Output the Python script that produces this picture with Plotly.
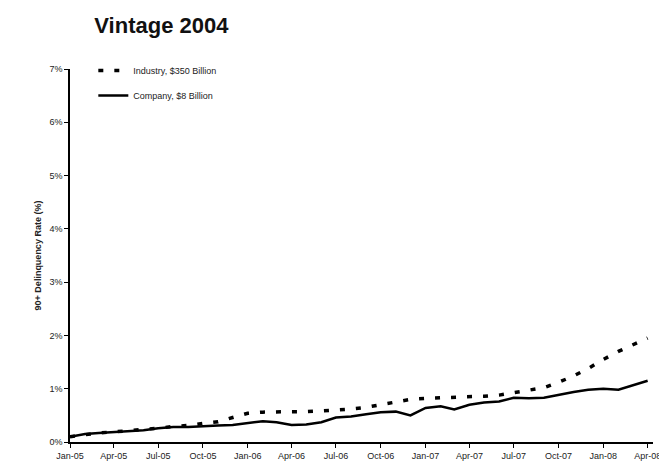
import pandas as pd
import plotly.graph_objects as go

months = pd.date_range("2005-01-01", periods=40, freq="MS")

industry = [0.10, 0.14, 0.17, 0.19, 0.21, 0.23, 0.26, 0.29, 0.31, 0.35,
            0.38, 0.46, 0.54, 0.56, 0.57, 0.57, 0.57, 0.58, 0.60, 0.62,
            0.65, 0.70, 0.75, 0.80, 0.82, 0.83, 0.83, 0.84, 0.86, 0.88,
            0.93, 0.98, 1.02, 1.12, 1.24, 1.38, 1.55, 1.70, 1.82, 1.95]

company = [0.10, 0.15, 0.17, 0.19, 0.20, 0.22, 0.26, 0.28, 0.28, 0.30,
           0.31, 0.32, 0.35, 0.39, 0.37, 0.32, 0.33, 0.37, 0.46, 0.48,
           0.52, 0.56, 0.57, 0.50, 0.64, 0.67, 0.61, 0.70, 0.74, 0.76,
           0.83, 0.82, 0.83, 0.89, 0.94, 0.98, 1.00, 0.98, 1.06, 1.15]

names = ["Industry, $350 Billion", "Company, $8 Billion"]
y_ticks = [0, 1, 2, 3, 4, 5, 6, 7]
y_labels = ["0%", "1%", "2%", "3%", "4%", "5%", "6%", "7%"]

fig = go.Figure()
fig.add_trace(go.Scatter(
    x=months, y=industry, name=names[0], mode="lines",
    legendgroup="a",
    line=dict(color="black", width=3.5, dash="5px,11px"),
))
fig.add_trace(go.Scatter(
    x=months, y=company, name=names[1], mode="lines",
    legendgroup="b",
    line=dict(color="black", width=2.5),
))

fig.update_layout(
    width=667, height=466,
    paper_bgcolor="white", plot_bgcolor="white",
    margin=dict(l=62, r=22, t=61, b=32),
    font=dict(family="Arial, Liberation Sans", color="#222", size=9),
    title=dict(text="<b>Vintage 2004</b>", x=0.23, xanchor="center",
               y=0.963, yanchor="middle",
               font=dict(size=22, color="#111")),
    showlegend=True,
    legend=dict(x=0.04, y=1.035, xanchor="left", yanchor="top",
                bgcolor="rgba(0,0,0,0)", font=dict(size=9),
                tracegroupgap=6, traceorder="grouped"),
)
fig.update_xaxes(
    range=["2005-01-01", "2008-04-12"],
    tickformat="%b-%y", dtick="M3", tick0="2005-01-01",
    showgrid=False, showline=True, linecolor="black", linewidth=1.5,
    ticks="outside", ticklen=4, tickcolor="black", zeroline=False,
    tickfont=dict(size=9),
)
fig.update_yaxes(
    range=[0, 7], tickvals=y_ticks, ticktext=y_labels,
    showgrid=False, showline=True, linecolor="black", linewidth=1.5,
    ticks="outside", ticklen=4, tickcolor="black", zeroline=False,
    tickfont=dict(size=9),
    title=dict(text="<b>90+ Delinquency Rate (%)</b>", font=dict(size=9),
               standoff=6),
)

fig.write_html("out.html")
